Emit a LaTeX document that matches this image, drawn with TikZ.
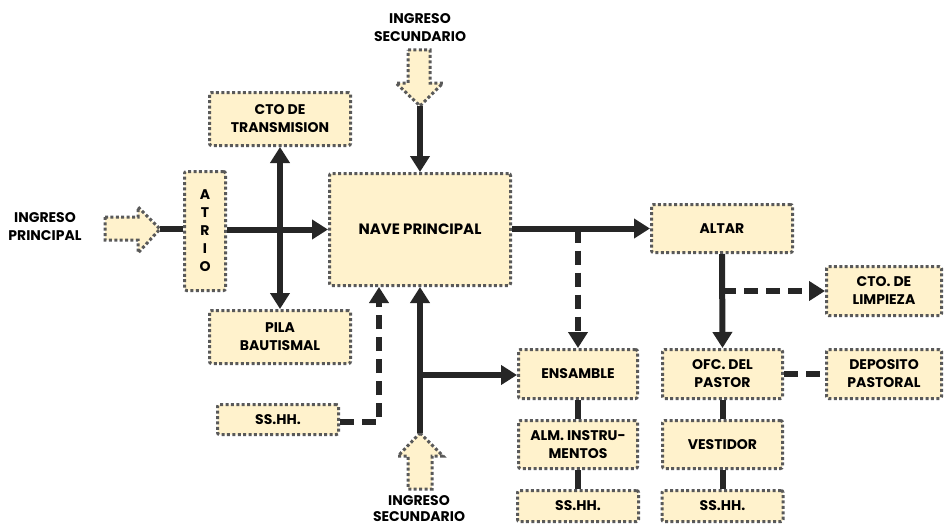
\documentclass[tikz,border=0pt]{standalone}
\usepackage{fontspec}
\setmainfont{Poppins}
\usetikzlibrary{arrows.meta}
\definecolor{boxfill}{HTML}{FFF2CC}
\definecolor{boxedge}{HTML}{595959}
\definecolor{flow}{HTML}{262626}
\tikzset{
  room/.style={draw=boxedge, fill=boxfill, line width=3pt,
    dash pattern=on 3pt off 2.4pt, rounded corners=2pt,
    align=center, inner sep=2pt, font=\bfseries\fontsize{14}{18}\selectfont},
  entry/.style={draw=boxedge, fill=boxfill, line width=3pt,
    dash pattern=on 3pt off 2.4pt, line join=miter},
  label/.style={align=center, font=\bfseries\fontsize{14}{18}\selectfont},
  link/.style={draw=flow, line width=6pt},
  linkarrow/.style={link, -{Triangle[length=16pt,width=19pt]}},
  twoway/.style={link, {Triangle[length=16pt,width=19pt]}-{Triangle[length=16pt,width=19pt]}},
  dashlink/.style={link, dash pattern=on 14pt off 8pt},
  dasharrow/.style={dashlink, -{Triangle[length=16pt,width=19pt]}}
}
\begin{document}
\begin{tikzpicture}[x=1pt,y=-1pt]
\useasboundingbox (0,0) rectangle (944,527);

% rooms
\node[room, minimum width=41pt, minimum height=119pt] (atrio) at (205,231)
  {\fontsize{14}{18.7}\selectfont A\\T\\R\\I\\O};
\node[room, minimum width=141pt, minimum height=53pt] (cto) at (280,119) {CTO DE\\TRANSMISION};
\node[room, minimum width=141pt, minimum height=53pt] (pila) at (280,337) {PILA\\BAUTISMAL};
\node[room, minimum width=181pt, minimum height=112pt] (nave) at (420,229.5) {\fontsize{15}{18}\selectfont NAVE PRINCIPAL};
\node[room, minimum width=121pt, minimum height=30pt] (sshhL) at (278,419.5) {SS.HH.};
\node[room, minimum width=141pt, minimum height=48pt] (altar) at (722,228.5) {ALTAR};
\node[room, minimum width=115pt, minimum height=49pt] (limp) at (884,291) {CTO. DE\\LIMPIEZA};
\node[room, minimum width=119pt, minimum height=49pt] (ens) at (578,374) {ENSAMBLE};
\node[room, minimum width=119pt, minimum height=48pt] (alm) at (578,444.5) {ALM. INSTRU-\\MENTOS};
\node[room, minimum width=121pt, minimum height=31pt] (sshhM) at (578,506) {SS.HH.};
\node[room, minimum width=120pt, minimum height=49pt] (ofc) at (722.5,374) {OFC. DEL\\PASTOR};
\node[room, minimum width=120pt, minimum height=48pt] (vest) at (722.5,444.5) {VESTIDOR};
\node[room, minimum width=121pt, minimum height=31pt] (sshhR) at (722.5,506) {SS.HH.};
\node[room, minimum width=115pt, minimum height=49pt] (dep) at (884,374) {DEPOSITO\\PASTORAL};

% entrance arrows
\draw[entry] (105,217) -- (138,217) -- (138,207) -- (160,229) -- (138,253)
  -- (138,240) -- (105,240) -- cycle;
\coordinate (mainin) at (160,229);
\node[label] (mainlbl) at (45,227) {INGRESO\\PRINCIPAL};

\draw[entry] (408,50) -- (430,50) -- (430,83) -- (443,83) -- (420,106) -- (396,83)
  -- (408,83) -- cycle;
\coordinate (topin) at (420,106);
\node[label] (toplbl) at (420,28) {INGRESO\\SECUNDARIO};

\draw[entry] (420,433) -- (443,456) -- (432,456) -- (432,489) -- (408,489)
  -- (408,456) -- (398,456) -- cycle;
\coordinate (botin) at (420,433);
\node[label, font=\bfseries\fontsize{14}{15.5}\selectfont, inner sep=0pt] (botlbl) at (419,508.5) {INGRESO\\SECUNDARIO};

% circulation
\draw[link] (mainin) -- (atrio.west |- mainin);
\draw[linkarrow] (atrio.east |- nave.west) -- (nave.west);
\draw[twoway] (cto.south) -- (pila.north);
\draw[linkarrow] (topin) -- (nave.north);
\draw[linkarrow] (nave.east |- altar.west) -- (altar.west);
\coordinate (split) at (ens.north |- altar.west);
\draw[dasharrow] (split) -- (ens.north);
\draw[linkarrow] (altar.south) -- (ofc.north);
\draw[dasharrow] (altar.south |- limp.west) -- (limp.west);
\draw[dashlink] (ofc.east) -- (dep.west);
\draw[link] (ens.south) -- (alm.north);
\draw[link] (alm.south) -- (sshhM.north);
\draw[link] (ofc.south) -- (vest.north);
\draw[link] (vest.south) -- (sshhR.north);

\coordinate (bend) at (379,422);
\draw[dasharrow] (sshhL.east |- bend) -- (bend) -- (bend |- nave.south);
\draw[linkarrow] (botin) -- (nave.south);
\coordinate (fork) at (420,375);
\draw[linkarrow] (fork) -- (ens.west |- fork);
\end{tikzpicture}
\end{document}
